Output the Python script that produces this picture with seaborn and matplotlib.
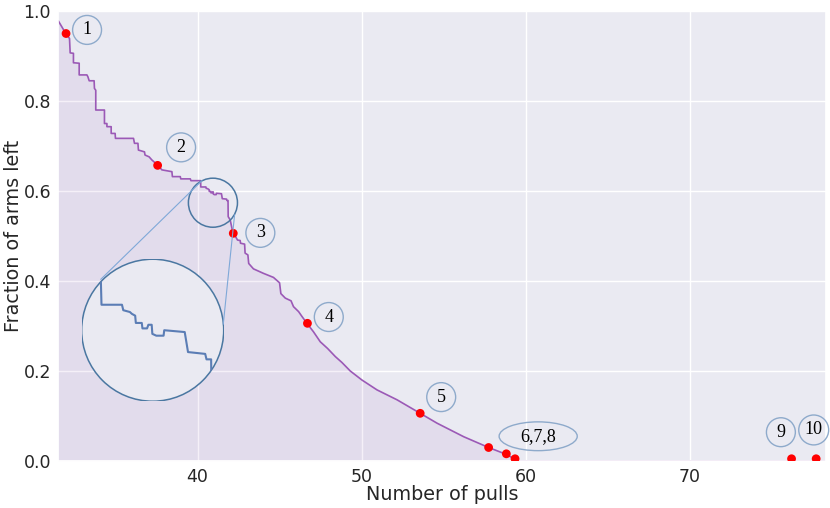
import matplotlib
matplotlib.use("Agg")
import matplotlib.pyplot as plt
from matplotlib.patches import Circle, Ellipse, ConnectionPatch
import seaborn as sns
import pandas as pd

# -------------------------------
# Data
# -------------------------------
pulls = [31.52, 31.99, 32.20, 32.24, 32.44, 32.44, 32.79, 32.79, 33.26, 33.32,
         33.40, 33.70, 33.72, 33.80, 33.80, 34.33, 34.33, 34.48, 34.48, 34.74,
         34.74, 34.98, 35.00, 36.10, 36.16, 36.37, 36.40, 36.77, 36.80, 37.05,
         37.22, 37.59, 37.83, 38.44, 38.47, 38.95, 38.98, 39.56, 39.60, 40.19,
         40.20, 40.51, 40.53, 40.63, 40.66, 40.71, 40.72, 40.81, 40.82, 40.89,
         40.91, 40.96, 40.97, 41.03, 41.14, 41.15, 41.46, 41.51, 41.77, 41.79,
         41.86, 41.87, 41.99, 42.10, 42.20, 42.44, 42.60, 42.62, 42.87, 42.90,
         43.07, 43.12, 43.41, 44.02, 44.63, 44.94, 45.00, 45.08, 45.35, 45.70,
         45.85, 46.16, 46.37, 46.67, 47.07, 47.48, 47.93, 48.40, 48.80, 49.31,
         50.02, 50.94, 52.16, 53.57, 54.60, 56.22, 57.74, 58.80, 59.40, 59.60,
         78.30]
arms_left = [0.978, 0.949, 0.939, 0.907, 0.906, 0.885, 0.884, 0.858, 0.858, 0.854,
             0.845, 0.845, 0.828, 0.824, 0.780, 0.780, 0.750, 0.750, 0.743, 0.743,
             0.728, 0.728, 0.717, 0.717, 0.706, 0.706, 0.691, 0.687, 0.680, 0.676,
             0.669, 0.657, 0.647, 0.643, 0.632, 0.632, 0.627, 0.627, 0.623, 0.623,
             0.609, 0.609, 0.606, 0.605, 0.604, 0.603, 0.599, 0.599, 0.596, 0.596,
             0.598, 0.598, 0.593, 0.592, 0.592, 0.595, 0.594, 0.583, 0.582, 0.579,
             0.579, 0.543, 0.536, 0.517, 0.506, 0.491, 0.490, 0.484, 0.482, 0.462,
             0.458, 0.439, 0.427, 0.417, 0.408, 0.398, 0.396, 0.372, 0.362, 0.356,
             0.343, 0.332, 0.321, 0.306, 0.287, 0.265, 0.250, 0.232, 0.219, 0.200,
             0.180, 0.158, 0.136, 0.106, 0.084, 0.054, 0.030, 0.015, 0.003, 0.000,
             0.000]

# red markers (one per arm elimination milestone)
marker_x = [31.99, 37.57, 42.18, 46.70, 53.57, 57.74, 58.82, 59.35, 76.20, 77.70]
marker_y = [0.950, 0.657, 0.506, 0.306, 0.106, 0.030, 0.016, 0.005, 0.005, 0.005]

# circled labels
label_text = ["1", "2", "3", "4", "5", "9", "10"]
label_x = [33.27, 39.00, 43.83, 48.00, 54.85, 75.55, 77.55]
label_y = [0.958, 0.697, 0.507, 0.320, 0.142, 0.064, 0.069]

curve = pd.DataFrame({"pulls": pulls, "arms_left": arms_left})

# -------------------------------
# Figure
# -------------------------------
sns.set_theme(style="darkgrid")
plt.rcParams["font.family"] = ["DejaVu Sans"]

fig = plt.figure(figsize=(8.3, 5.08), dpi=100)
ax = fig.add_axes([0.0699, 0.0925, 0.9253, 0.8858])

purple = "#9b59b6"
sns.lineplot(data=curve, x="pulls", y="arms_left", ax=ax, color=purple,
             linewidth=1.2, sort=False, estimator=None)
ax.fill_between(curve["pulls"], curve["arms_left"], color=purple, alpha=0.09, lw=0)
ax.scatter(marker_x, marker_y, s=40, color="red", edgecolor="none", zorder=5)

for t, x, y in zip(label_text, label_x, label_y):
    ax.text(x, y, t, ha="center", va="center", fontsize=13,
            family="Liberation Serif", color="black",
            bbox=dict(boxstyle="circle,pad=0.33", fc="none", ec="#8eaacb", lw=1))

# ellipse for 6,7,8
ax.add_patch(Ellipse((60.76, 0.055), 4.76, 0.064, fc="none", ec="#8eaacb", lw=1))
ax.text(60.76, 0.055, "6,7,8", ha="center", va="center", fontsize=13,
        family="Liberation Serif", color="black")

ax.set_xlim(31.5, 78.3)
ax.set_ylim(0, 1.0)
ax.set_xticks([40, 50, 60, 70])
ax.set_yticks([0.0, 0.2, 0.4, 0.6, 0.8, 1.0])
ax.set_yticklabels(["0.0", "0.2", "0.4", "0.6", "0.8", "1.0"])
ax.tick_params(labelsize=12.5, pad=5, length=0)
ax.set_xlabel("Number of pulls", fontsize=13.8, labelpad=-1)
ax.set_ylabel("Fraction of arms left", fontsize=13.8, labelpad=0.5)

# small circle marking the zoomed region
circle_col = "#4a77a1"
ax.add_patch(Ellipse((40.94, 0.574), 2.99, 0.109, fc="none", ec=circle_col, lw=1.1, zorder=6))

# -------------------------------
# Magnified inset (circular)
# -------------------------------
ax_in = fig.add_axes([0.0984, 0.2102, 0.1711, 0.2795])
ax_in.axis("off")
lens = Circle((0.5, 0.5), 0.5, transform=ax_in.transAxes, fc="#eaeaf2",
              ec=circle_col, lw=1.1, zorder=1)
ax_in.add_patch(lens)
zl = ax_in.plot(curve["pulls"], curve["arms_left"], color="#5b7db5", lw=1.5, zorder=2)[0]
zl.set_clip_path(lens)
ax_in.set_xlim(39.9, 42.05)
ax_in.set_ylim(0.556, 0.634)

for (xa, ya), (xb, yb) in [((40.27, 0.623), (0.134, 0.858)),
                           ((42.26, 0.547), (0.997, 0.542))]:
    con = ConnectionPatch(xyA=(xa, ya), coordsA=ax.transData,
                          xyB=(xb, yb), coordsB=ax_in.transAxes,
                          color="#7fa8d8", lw=0.8)
    fig.add_artist(con)

fig.savefig("out.png", dpi=100)
